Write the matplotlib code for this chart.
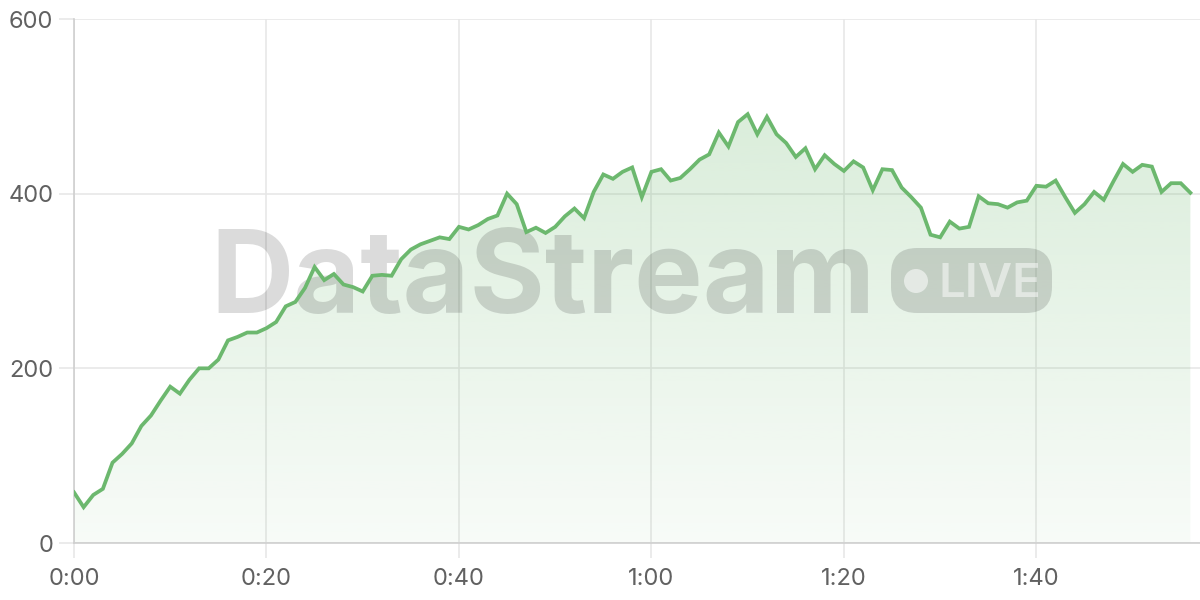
import numpy as np
import matplotlib
matplotlib.use("Agg")
import matplotlib.pyplot as plt
from matplotlib.patches import FancyBboxPatch, Circle
from matplotlib.transforms import IdentityTransform
from matplotlib.ticker import FuncFormatter

# seconds since start, one sample per second
seconds = list(range(117))
values = [
    58, 41, 55, 62, 92, 102, 114, 134, 146, 163,
    179, 171, 187, 200, 200, 210, 232, 236, 241, 241,
    246, 253, 271, 276, 292, 316, 301, 308, 296, 293,
    288, 306, 307, 306, 325, 336, 342, 346, 350, 348,
    362, 359, 364, 371, 375, 400, 388, 356, 361, 355,
    362, 374, 383, 372, 402, 422, 417, 425, 430, 396,
    425, 428, 415, 418, 428, 439, 445, 470, 454, 482,
    491, 468, 488, 468, 458, 442, 452, 428, 444, 434,
    426, 437, 430, 404, 428, 427, 407, 396, 384, 353,
    350, 368, 360, 362, 397, 389, 388, 384, 390, 392,
    409, 408, 415, 396, 378, 388, 402, 393, 414, 434,
    425, 433, 431, 402, 412, 412, 401,
]
x_ticks = [0, 20, 40, 60, 80, 100]
y_ticks = [0, 200, 400, 600]

line_color = "#6cb86e"
grid_color = "#e6e6e6"
axis_color = "#cfcfcf"
label_color = "#616161"

plt.rcParams['font.family'] = ['Inter', 'DejaVu Sans']

fig = plt.figure(figsize=(12, 6), dpi=100)
ax = fig.add_axes([74 / 1200, 57 / 600, 1126 / 1200, 524 / 600])

# grid + axes styling
ax.set_axisbelow(True)
ax.grid(True, color=grid_color, linewidth=1.1)
for side in ["top", "right"]:
    ax.spines[side].set_visible(False)
for side in ["left", "bottom"]:
    ax.spines[side].set_color(axis_color)
    ax.spines[side].set_linewidth(1.2)

ax.set_xticks(x_ticks)
ax.set_yticks(y_ticks)
ax.xaxis.set_major_formatter(FuncFormatter(lambda v, p: "%d:%02d" % (int(v) // 60, int(v) % 60)))
ax.tick_params(axis="both", length=11, width=1.1, color=grid_color,
               labelcolor=label_color, labelsize=17)
ax.tick_params(axis="x", pad=7)
ax.tick_params(axis="y", pad=4)

# gradient fill under the line
x = np.array(seconds)
y = np.array(values)
poly = ax.fill_between(x, y, 0, color="none", linewidth=0)
ymax = y.max()
rgba = np.zeros((256, 1, 4))
rgba[..., :3] = matplotlib.colors.to_rgb(line_color)
rgba[..., 3] = np.linspace(0.05, 0.25, 256).reshape(-1, 1)
img = ax.imshow(rgba, extent=[x[0], x[-1], 0, ymax], origin="lower",
                aspect="auto", zorder=1, interpolation="bilinear")
img.set_clip_path(poly.get_paths()[0], transform=ax.transData)
ax.set_xlim(0, 117)
ax.set_ylim(0, 600)

# watermark (pixel coords, y measured from the bottom)
ident = IdentityTransform()
ax.text(210, 287, "DataStream", transform=ident, fontsize=83, fontweight="bold",
        color="black", alpha=0.14, ha="left", va="baseline", zorder=2, clip_on=False)
pill = FancyBboxPatch((891, 287), 161, 65, boxstyle="round,pad=0,rounding_size=26",
                      transform=ident, facecolor="black", alpha=0.14,
                      edgecolor="none", zorder=2)
ax.add_patch(pill)
ax.add_patch(Circle((916, 319), 12, transform=ident, facecolor="white",
                    alpha=0.55, edgecolor="none", zorder=2.1))
ax.text(938, 303, "LIVE", transform=ident, fontsize=34, fontweight="semibold",
        color="white", alpha=0.5, ha="left", va="baseline", zorder=2.1, clip_on=False)

ax.plot(x, y, color=line_color, linewidth=2.7, zorder=3, solid_joinstyle="miter")

fig.savefig("out.png", dpi=100)
